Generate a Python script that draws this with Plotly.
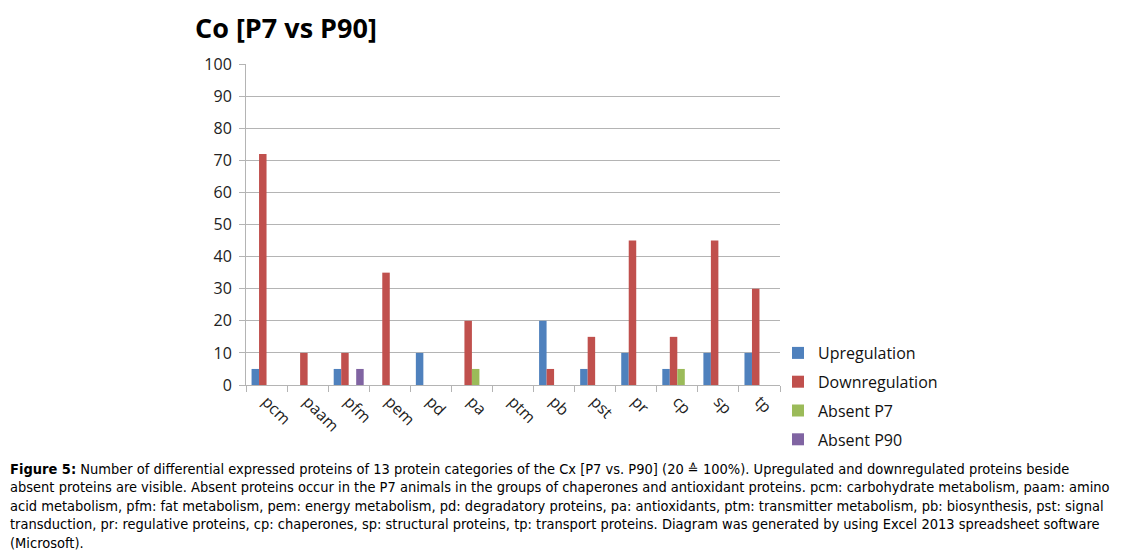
import plotly.graph_objects as go

categories = ["pcm", "paam", "pfm", "pem", "pd", "pa", "ptm", "pb", "pst", "pr", "cp", "sp", "tp"]
upregulation = [5, 0, 5, 0, 10, 0, 0, 20, 5, 10, 5, 10, 10]
downregulation = [72, 10, 10, 35, 0, 20, 0, 5, 15, 45, 15, 45, 30]
absent_p7 = [0, 0, 0, 0, 0, 5, 0, 0, 0, 0, 5, 0, 0]
absent_p90 = [0, 0, 5, 0, 0, 0, 0, 0, 0, 0, 0, 0, 0]
series_names = ["Upregulation", "Downregulation", "Absent P7", "Absent P90"]
series_colors = ["#4F81BD", "#C0504D", "#9BBB59", "#8064A2"]
y_ticks = [0, 10, 20, 30, 40, 50, 60, 70, 80, 90, 100]

title_text = "Co [P7 vs P90]"
caption_lines = [
    "<b>Figure 5:</b> Number of differential expressed proteins of 13 protein categories of the Cx [P7 vs. P90] (20 \u2259 100%). Upregulated and downregulated proteins beside",
    "absent proteins are visible. Absent proteins occur in the P7 animals in the groups of chaperones and antioxidant proteins. pcm: carbohydrate metabolism, paam: amino",
    "acid metabolism, pfm: fat metabolism, pem: energy metabolism, pd: degradatory proteins, pa: antioxidants, ptm: transmitter metabolism, pb: biosynthesis, pst: signal",
    "transduction, pr: regulative proteins, cp: chaperones, sp: structural proteins, tp: transport proteins. Diagram was generated by using Excel 2013 spreadsheet software",
    "(Microsoft).",
]

# page body has an 8px margin: work in reference pixels, shift by OFF
OFF = 8
W, H = 1133 - OFF, 554 - OFF
L, R, T, B = 246 - OFF, 780 - OFF, 64 - OFF, 385 - OFF


def xp(px):
    return (px - OFF - L) / (R - L)


def yp(py):
    return (B - (py - OFF)) / (B - T)


CHART_FONT = "Open Sans, Noto Sans, DejaVu Sans, sans-serif"
CAP_FONT = "Liberation Sans Narrow, Arial Narrow, DejaVu Sans Condensed, Liberation Sans, sans-serif"
GRID = "#B4B4B4"

fig = go.Figure()
for name, vals, col in zip(series_names, [upregulation, downregulation, absent_p7, absent_p90], series_colors):
    fig.add_trace(go.Bar(x=categories, y=vals, name=name, marker_color=col,
                         marker_line_width=0, legendgroup=name))

fig.update_layout(
    width=W, height=H, autosize=False,
    margin=dict(l=L, r=W - R, t=T, b=H - B, pad=0),
    paper_bgcolor="white", plot_bgcolor="white",
    barmode="group", bargap=0.27, bargroupgap=0,
    font=dict(family=CHART_FONT, size=16, color="#222222"),
    showlegend=True,
    legend=dict(x=xp(778), y=yp(336), xanchor="left", yanchor="top",
                font=dict(family=CHART_FONT, size=16, color="#111111"),
                traceorder="grouped", tracegroupgap=5, itemwidth=30,
                bgcolor="rgba(0,0,0,0)"),
)
fig.update_xaxes(showgrid=False, showline=True, linecolor=GRID, linewidth=1,
                 ticks="outside", tickson="boundaries", ticklen=6, tickcolor=GRID,
                 tickangle=45, tickfont=dict(size=16, color="#222222"))
fig.update_yaxes(range=[0, 100], tickvals=y_ticks, showgrid=True, gridcolor=GRID, gridwidth=1,
                 showline=True, linecolor=GRID, linewidth=1, zeroline=False,
                 ticks="outside", ticklen=6, tickcolor=GRID, ticklabelstandoff=4,
                 tickfont=dict(size=16, color="#222222"))

fig.add_annotation(text="<b>" + title_text + "</b>", x=xp(194), y=yp(8.5), xref="paper", yref="paper",
                   xanchor="left", yanchor="top", showarrow=False, borderpad=0,
                   font=dict(family=CHART_FONT, size=27, color="black"))

line_ys = [469, 487, 506, 524, 543]
for txt, ly in zip(caption_lines, line_ys):
    fig.add_annotation(text=txt, x=xp(9), y=yp(ly), xref="paper", yref="paper",
                       xanchor="left", yanchor="middle", showarrow=False, align="left",
                       borderpad=0,
                       font=dict(family=CAP_FONT, size=14.5, color="black"))

fig.write_html("out.html")
